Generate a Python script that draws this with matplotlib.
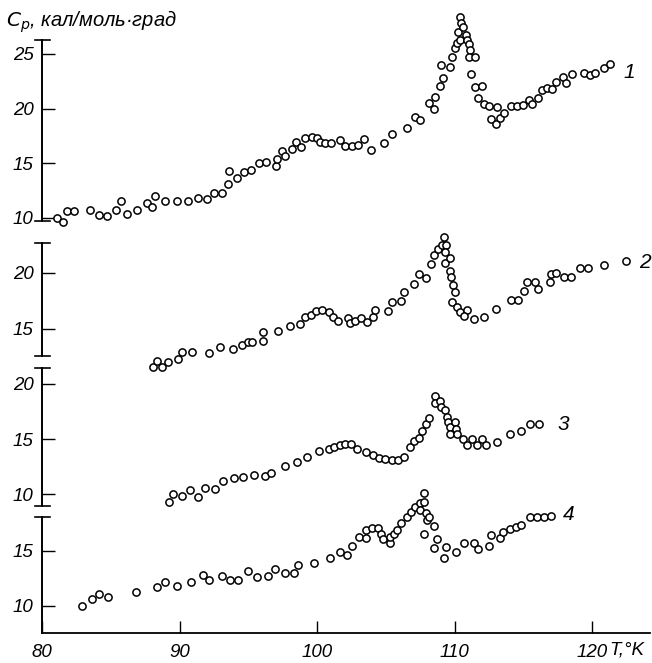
import matplotlib
matplotlib.use('Agg')
import matplotlib.pyplot as plt

# ---------------- data (T in K, Cp in cal/(mol*deg)) ----------------
t1 = [81.06, 81.55, 81.79, 82.32, 83.48, 84.16, 84.75, 85.35, 85.71, 86.15, 86.93, 87.60,
      88.02, 88.18, 88.91, 89.83, 90.60, 91.33, 92.01, 92.54, 93.10, 93.51, 93.58, 94.14,
      94.67, 95.16, 95.76, 96.32, 96.98, 97.10, 97.46, 97.70, 98.14, 98.48, 98.84, 99.11,
      99.64, 100.01, 100.20, 100.56, 101.02, 101.70, 102.06, 102.50, 102.96, 103.39, 103.95,
      104.85, 105.46, 106.50, 107.08, 107.51, 108.12, 108.48, 108.60, 108.92, 109.02, 109.16,
      109.64, 109.82, 110.06, 110.18, 110.23, 110.37, 110.42, 110.49, 110.62, 110.79, 110.91,
      111.03, 111.10, 111.03, 111.51, 111.22, 111.51, 112.00, 111.71, 112.12, 112.48, 113.09,
      112.65, 112.97, 113.33, 113.57, 114.06, 114.54, 114.98, 115.39, 115.63, 116.04, 116.36,
      116.72, 117.09, 117.40, 117.86, 118.12, 118.54, 119.38, 119.87, 120.23, 120.84, 121.32]
cp1 = [9.97, 9.66, 10.61, 10.61, 10.73, 10.27, 10.18, 10.73, 11.55, 10.36, 10.73, 11.40,
       11.03, 12.01, 11.55, 11.55, 11.55, 11.85, 11.76, 12.31, 12.31, 13.11, 14.30, 13.68,
       14.23, 14.39, 15.06, 15.15, 14.75, 15.37, 16.15, 15.67, 16.31, 16.92, 16.52, 17.29,
       17.43, 17.34, 16.98, 16.83, 16.83, 17.13, 16.58, 16.58, 16.67, 17.22, 16.22,
       16.83, 17.68, 18.23, 19.21, 18.96, 20.54, 19.97, 21.04, 22.07, 23.99, 22.83,
       23.84, 24.75, 25.58, 25.98, 27.04, 26.28, 28.41, 27.86, 27.44, 26.74, 26.28,
       25.89, 25.37, 24.75, 24.70, 23.17, 21.95, 22.07, 20.95, 20.43, 20.24, 20.12,
       19.05, 18.60, 19.12, 19.63, 20.27, 20.27, 20.33, 20.79, 20.40, 20.95, 21.71,
       21.86, 21.77, 22.47, 22.87, 22.37, 23.14, 23.29, 23.08, 23.23, 23.69, 24.06]

t2 = [88.09, 88.38, 88.69, 89.18, 89.91, 90.20, 90.89, 92.13, 92.93, 93.89, 94.51, 94.98,
      95.28, 96.08, 96.08, 97.19, 98.03, 98.77, 99.13, 99.56, 99.94, 100.34, 100.83, 101.19,
      101.50, 102.22, 102.41, 102.79, 103.18, 103.66, 104.05, 104.19, 105.14, 105.46, 106.10,
      106.30, 107.03, 107.43, 107.94, 108.30, 108.48, 108.80, 109.06, 109.24, 109.39, 109.33,
      109.28, 109.67, 109.64, 109.75, 109.88, 110.00, 109.82, 110.18, 110.40, 110.88, 110.68,
      111.39, 112.11, 113.04, 114.13, 114.59, 115.07, 115.24, 115.87, 116.04, 116.91, 117.01,
      117.38, 117.93, 118.49, 119.09, 119.70, 120.89, 122.46]
cp2 = [11.54, 12.12, 11.61, 12.05, 12.28, 12.89, 12.95, 12.86, 13.34, 13.19, 13.54, 13.79,
       13.84, 14.73, 13.88, 14.81, 15.26, 15.39, 16.02, 16.22, 16.55, 16.67, 16.49, 16.07,
       15.71, 15.93, 15.51, 15.71, 15.93, 15.60, 16.07, 16.67, 16.58, 17.41, 17.47,
       18.28, 18.97, 19.87, 19.55, 20.78, 21.58, 22.14, 22.47, 23.21, 22.45, 21.88,
       20.84, 21.29, 20.17, 19.57, 18.93, 18.30, 17.41, 16.96, 16.47, 16.67, 16.09,
       15.84, 16.07, 16.73, 17.56, 17.56, 18.37, 19.14, 19.20, 18.54, 19.14, 19.88,
       19.95, 19.59, 19.64, 20.45, 20.45, 20.71, 21.07]

t3 = [89.22, 89.54, 90.15, 90.75, 91.33, 91.83, 92.57, 93.18, 93.95, 94.58, 95.40, 96.23,
      96.67, 97.70, 98.52, 99.25, 100.12, 100.85, 101.24, 101.66, 102.06, 102.45, 102.91,
      103.58, 104.05, 104.48, 104.97, 105.41, 105.86, 106.30, 106.75, 107.03, 107.39, 107.64,
      107.94, 108.12, 108.55, 108.60, 108.92, 109.02, 109.33, 109.45, 109.53, 109.69, 109.69,
      109.99, 110.09, 110.18, 110.57, 110.91, 111.29, 111.63, 112.02, 112.31, 113.06, 114.05,
      114.84, 115.44, 116.11]
cp3 = [9.30, 10.00, 9.85, 10.34, 9.70, 10.57, 10.45, 11.18, 11.48, 11.59, 11.73, 11.64,
       11.93, 12.55, 12.91, 13.39, 13.88, 14.07, 14.27, 14.43, 14.53, 14.55, 14.06,
       13.79, 13.55, 13.30, 13.18, 13.09, 13.09, 13.39, 14.27, 14.80, 15.11, 15.70,
       16.36, 16.88, 18.91, 18.25, 18.45, 17.94, 17.64, 17.03, 16.52, 16.06, 15.45,
       16.57, 15.88, 15.41, 15.02, 14.45, 14.98, 14.45, 14.97, 14.45, 14.75, 15.41,
       15.70, 16.34, 16.34]

t4 = [82.93, 83.66, 84.14, 84.79, 86.80, 88.35, 88.92, 89.78, 90.85, 91.67, 92.11, 93.10,
      93.68, 94.27, 94.96, 95.62, 96.40, 96.95, 97.65, 98.31, 98.61, 99.76, 100.92, 101.70,
      102.19, 102.52, 103.01, 103.52, 103.52, 104.00, 104.44, 104.61, 104.80, 105.28, 105.28,
      105.57, 105.82, 106.11, 106.55, 106.86, 107.10, 107.51, 107.46, 107.75, 107.75, 107.93,
      108.00, 108.17, 108.48, 107.80, 108.68, 108.53, 109.38, 109.21, 110.13, 110.66, 111.39,
      111.71, 112.53, 112.67, 113.28, 113.52, 114.00, 114.47, 114.85, 115.44, 116.00, 116.48,
      117.03]
cp4 = [10.00, 10.61, 11.04, 10.75, 11.27, 11.70, 12.18, 11.81, 12.18, 12.76, 12.36, 12.73,
       12.31, 12.38, 13.18, 12.58, 12.67, 13.34, 13.00, 13.00, 13.67, 13.91, 14.38, 14.91,
       14.58, 15.45, 16.22, 16.13, 16.88, 17.09, 17.09, 16.49, 16.06, 15.73, 16.27,
       16.49, 16.88, 17.55, 18.09, 18.55, 18.95, 19.31, 18.70, 20.22, 19.45, 18.45,
       17.79, 18.09, 17.27, 16.52, 16.06, 15.27, 15.36, 14.36, 14.91, 15.73, 15.73,
       15.13, 15.43, 16.43, 16.13, 16.67, 16.97, 17.18, 17.34, 18.04, 18.09, 18.09,
       18.15]

series_t = [t1, t2, t3, t4]
series_cp = [cp1, cp2, cp3, cp4]
curve_names = ['1', '2', '3', '4']
y_ticks = [[10, 15, 20, 25], [15, 20], [10, 15, 20], [10, 15]]
y_limits = [(9.72, 26.28), (12.56, 22.65), (8.94, 21.48), (7.52, 18.09)]
name_pos = [(122.3, 23.35), (123.4, 20.87), (117.5, 16.36), (117.9, 18.25)]
x_ticks = [80, 90, 100, 110, 120]
x_labels = ['80', '90', '100', '110', '120']
x_limits = (80, 124.2)

# ---------------- layout ----------------
W, H = 652, 663
fig = plt.figure(figsize=(W / 100, H / 100), dpi=100)
fam = ['Liberation Sans', 'DejaVu Sans']
fnt = dict(family=fam, style='italic', size=13.5)

panel_px = [(40, 221), (243, 356), (367.7, 505.7), (516.7, 633)]  # top, bottom pixel rows
left_px, right_px = 42, 650

axes = []
for i in range(4):
    top, bot = panel_px[i]
    ax = fig.add_axes([left_px / W, 1 - bot / H, (right_px - left_px) / W, (bot - top) / H])
    ax.patch.set_alpha(0)
    ax.set_xlim(*x_limits)
    ax.set_ylim(*y_limits[i])
    for s in ['top', 'right']:
        ax.spines[s].set_visible(False)
    ax.spines['left'].set_linewidth(1.4)
    if i < 3:
        ax.spines['bottom'].set_visible(False)
        ax.set_xticks([])
    else:
        ax.spines['bottom'].set_linewidth(1.3)
        ax.set_xticks(x_ticks)
        ax.set_xticklabels(x_labels, **fnt)
        ax.tick_params(axis='x', direction='in', length=9, width=1, pad=8)
    ax.set_yticks(y_ticks[i])
    ax.set_yticklabels([str(v) for v in y_ticks[i]], **fnt)
    ax.tick_params(axis='y', direction='in', length=9, width=1, pad=6)
    ax.plot(series_t[i], series_cp[i], linestyle='none', marker='o', markersize=5.2,
            markerfacecolor='white', markeredgecolor='black', markeredgewidth=1.1,
            clip_on=False)
    nx, ny = name_pos[i]
    ax.text(nx, ny, curve_names[i], ha='left', va='center',
            family=fam, style='italic', size=15)
    # break marks at the ends of the left-axis segments
    ends = [1.0, 0.0] if i < 3 else [1.0]
    for e in ends:
        ax.plot([-7 / (right_px - left_px), 8 / (right_px - left_px)], [e, e],
                transform=ax.transAxes, color='black', lw=1.2, clip_on=False)
    axes.append(ax)

fig.text(609 / W, 1 - 650 / H, 'T,°K', ha='left', va='center', **fnt)
fig.text(6 / W, 1 - 22 / H, r'$C_p$, кал/моль·град', ha='left', va='center',
         family=fam, style='italic', size=14.5)

fig.savefig('out.png', dpi=100)
